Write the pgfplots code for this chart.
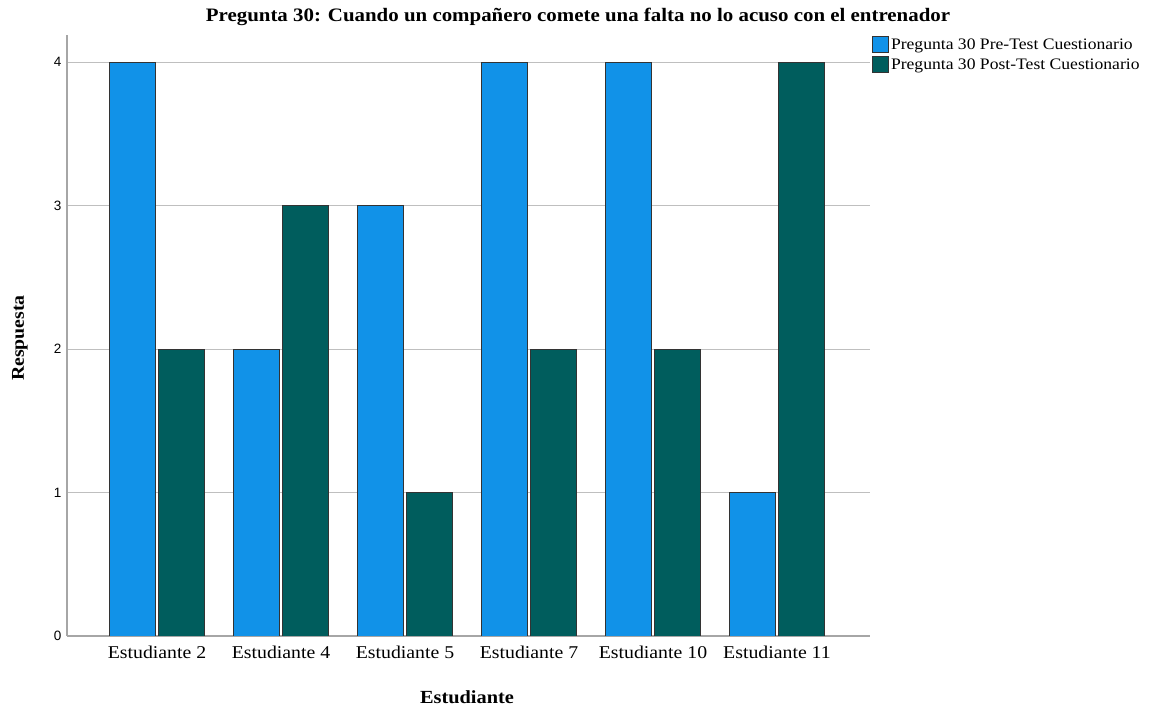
\documentclass[border=0pt]{standalone}
\usepackage{fontspec}
\setmainfont{Liberation Serif}[FakeStretch=1.1]
\newfontfamily\arialf{Liberation Sans}
\usepackage{pgfplots}
\pgfplotsset{compat=1.18}
\definecolor{preblue}{HTML}{1192E8}
\definecolor{postteal}{HTML}{005D5D}
\begin{document}
\begin{tikzpicture}[x=1pt,y=1pt]
\begin{axis}[at={(0,0)},anchor=south west, scale only axis, width=803pt, height=601pt,
 xmin=-0.726, xmax=5.75, ymin=0, ymax=4.19,
 xtick={0,...,5},
 xticklabels={Estudiante 2,Estudiante 4,Estudiante 5,Estudiante 7,Estudiante 10,Estudiante 11},
 ytick={0,...,4},
 axis x line*=bottom, axis y line*=left,
 axis line style={black!35,line width=1.2pt},
 tick style={draw=none},
 ymajorgrids, grid style={black!25, line width=1pt},
 x tick label style={font=\fontsize{18}{18}\selectfont, yshift=-2pt},
 y tick label style={font=\arialf\fontsize{13.5}{13.5}\selectfont, xshift=-2pt},
 /pgf/number format/assume math mode=true,
 ybar, bar width=0.37,
 legend style={at={(1.0025,0.998)}, anchor=north west, draw=none, fill=none,
   font=\fontsize{16}{16}\selectfont, row sep=3pt, inner sep=0pt,
   /tikz/every even column/.style={column sep=1pt}},
 legend cell align=left,
 legend image code/.code={\draw[#1, line width=0.8pt] (0pt,-8pt) rectangle (16pt,8pt);},
]
\addplot[fill=preblue, draw=black!80, line width=0.8pt, bar shift=-0.2] coordinates {(0,4)(1,2)(2,3)(3,4)(4,4)(5,1)};
\addplot[fill=postteal, draw=black!80, line width=0.8pt, bar shift=0.2] coordinates {(0,2)(1,3)(2,1)(3,2)(4,2)(5,4)};
\legend{Pregunta 30 Pre-Test Cuestionario, Pregunta 30 Post-Test Cuestionario}
\end{axis}
\node[font=\bfseries\fontsize{19}{19}\selectfont] at (511pt,619pt) {Pregunta 30: Cuando un compañero comete una falta no lo acuso con el entrenador};
\node[font=\bfseries\fontsize{18.5}{18.5}\selectfont] at (400pt,-61pt) {Estudiante};
\node[font=\bfseries\fontsize{18}{18}\selectfont, rotate=90] at (-47pt,298pt) {Respuesta};
\pgfresetboundingbox
\path (-67pt,-70pt) rectangle (1092pt,636pt);
\end{tikzpicture}
\end{document}
